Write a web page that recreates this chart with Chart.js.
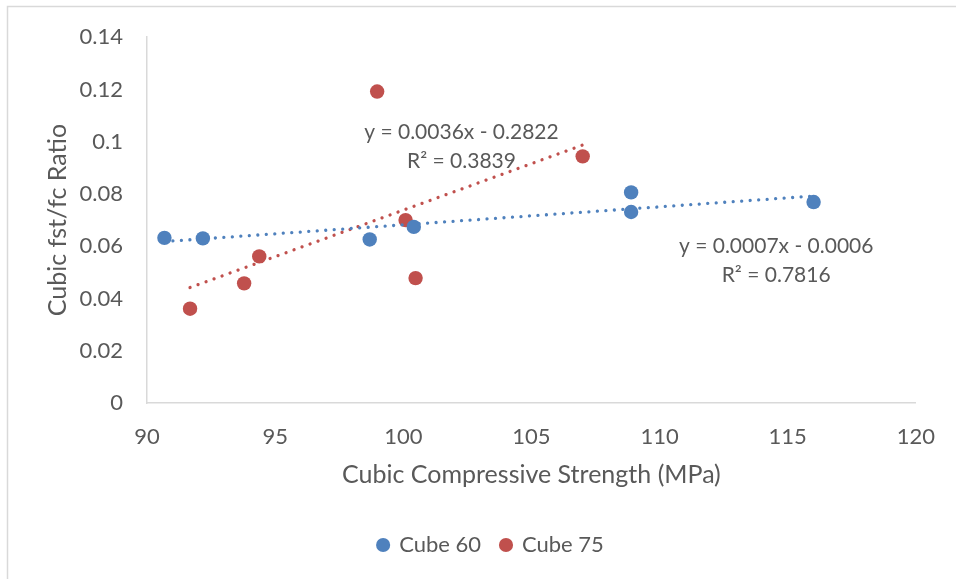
<!DOCTYPE html>
<html>
<head>
<meta charset="utf-8">
<script src="https://cdn.jsdelivr.net/npm/chart.js@4"></script>
<style>
  html, body { margin: 0; padding: 0; background: #ffffff; }
  #wrap { width: 956px; height: 579px; position: relative; }
</style>
</head>
<body>
<div id="wrap"><canvas id="c" width="956" height="579"></canvas></div>
<script>
// Cubic compressive strength (MPa) and fst/fc ratio per specimen group
const cube60X = [90.68, 92.18, 98.69, 100.41, 108.89, 108.89, 116.01];
const cube60Y = [0.0632, 0.0630, 0.0626, 0.0674, 0.0806, 0.0731, 0.0769];
const cube75X = [91.68, 93.79, 94.38, 98.98, 100.09, 100.48, 107.0];
const cube75Y = [0.0361, 0.0458, 0.0561, 0.1192, 0.0700, 0.0478, 0.0944];

// Linear trendline coefficients and fit quality
const trendSlope = [0.000688, 0.00356];
const trendIntercept = [-0.0006, -0.2822];
const trendR2 = [0.7816, 0.3839];

const seriesNames = ['Cube 60', 'Cube 75'];
const xTicks = [90, 95, 100, 105, 110, 115, 120];
const yTicks = [0, 0.02, 0.04, 0.06, 0.08, 0.1, 0.12, 0.14];

const FONT = 'Lato, "Open Sans", sans-serif';
const TEXT = '#595959';
const AXIS = '#d9d9d9';
const COLORS = ['#4f81bd', '#c0504d'];

function pts(xs, ys) { return xs.map((x, i) => ({ x: x, y: ys[i] })); }
function trend(xs, k) {
  const lo = Math.min(...xs), hi = Math.max(...xs);
  return [lo, hi].map(x => ({ x: x, y: trendSlope[k] * x + trendIntercept[k] }));
}
function eqText(k) {
  const b = trendIntercept[k];
  return 'y = ' + trendSlope[k].toFixed(4) + 'x ' + (b < 0 ? '- ' : '+ ') + Math.abs(b).toFixed(4);
}

const seriesX = [cube60X, cube75X];
const seriesY = [cube60Y, cube75Y];

const datasets = [];
seriesNames.forEach((name, k) => {
  datasets.push({
    label: name,
    data: pts(seriesX[k], seriesY[k]),
    backgroundColor: COLORS[k],
    borderColor: COLORS[k],
    pointRadius: 7.2,
    pointHoverRadius: 7.2,
    pointBorderWidth: 0,
    showLine: false,
    order: 2
  });
});
seriesNames.forEach((name, k) => {
  datasets.push({
    label: 'trend-' + k,
    type: 'line',
    data: trend(seriesX[k], k),
    borderColor: COLORS[k],
    borderWidth: 3.3,
    borderDash: [0.01, 8.5],
    borderCapStyle: 'round',
    pointRadius: 0,
    fill: false,
    order: 1
  });
});

// Trendline equation labels, anchored in data coordinates
const eqLabels = [
  { k: 0, x: 114.55, y: 0.0601 },
  { k: 1, x: 102.27, y: 0.1038 }
];

const decor = {
  id: 'decor',
  afterLayout(chart) {
    // centre the legend row on the whole frame rather than the plot
    const lg = chart.legend;
    if (lg) { lg.left += 31; lg.right += 31; }
  },
  beforeDraw(chart) {
    const ctx = chart.ctx;
    ctx.save();
    ctx.fillStyle = '#ffffff';
    ctx.fillRect(0, 0, chart.width, chart.height);
    ctx.strokeStyle = AXIS;
    ctx.lineWidth = 1.5;
    ctx.beginPath();
    ctx.moveTo(7.5, chart.height);
    ctx.lineTo(7.5, 6.5);
    ctx.lineTo(chart.width, 6.5);
    ctx.stroke();
    ctx.restore();
  },
  afterDatasetsDraw(chart) {
    const ctx = chart.ctx;
    const xs = chart.scales.x, ys = chart.scales.y;
    ctx.save();
    ctx.fillStyle = TEXT;
    ctx.font = '21px ' + FONT;
    ctx.textAlign = 'center';
    ctx.textBaseline = 'middle';
    eqLabels.forEach(l => {
      const px = xs.getPixelForValue(l.x), py = ys.getPixelForValue(l.y);
      ctx.fillText(eqText(l.k), px, py);
      ctx.fillText('R\u00b2 = ' + trendR2[l.k].toFixed(4), px, py + 29);
    });
    ctx.restore();
  }
};

new Chart(document.getElementById('c'), {
  type: 'scatter',
  data: { datasets: datasets },
  plugins: [decor],
  options: {
    responsive: false,
    animation: false,
    events: [],
    layout: { padding: { top: 35, right: 36, left: 0, bottom: 13 } },
    plugins: {
      tooltip: { enabled: false },
      legend: {
        position: 'bottom',
        labels: {
          usePointStyle: true,
          pointStyle: 'circle',
          boxWidth: 10,
          boxHeight: 10,
          padding: 20,
          color: TEXT,
          font: { family: FONT, size: 22 },
          filter: item => item.datasetIndex < seriesNames.length
        }
      }
    },
    scales: {
      x: {
        type: 'linear',
        min: xTicks[0],
        max: xTicks[xTicks.length - 1],
        afterBuildTicks: s => { s.ticks = xTicks.map(v => ({ value: v })); },
        afterFit: s => { s.height = 111; },
        grid: { display: false, drawTicks: false },
        border: { display: true, color: AXIS, width: 1.5 },
        ticks: { color: TEXT, font: { family: FONT, size: 22 }, padding: 21 },
        title: {
          display: true,
          text: 'Cubic Compressive Strength (MPa)',
          color: TEXT,
          font: { family: FONT, size: 25 },
          padding: { top: 0, bottom: 24 }
        }
      },
      y: {
        type: 'linear',
        min: yTicks[0],
        max: yTicks[yTicks.length - 1],
        afterBuildTicks: s => { s.ticks = yTicks.map(v => ({ value: v })); },
        afterFit: s => { s.width = 147; },
        grid: { display: false, drawTicks: false },
        border: { display: true, color: AXIS, width: 1.5 },
        ticks: {
          color: TEXT,
          font: { family: FONT, size: 22 },
          padding: 24,
          callback: v => String(v)
        },
        title: {
          display: true,
          text: 'Cubic fst/fc Ratio',
          color: TEXT,
          font: { family: FONT, size: 25 },
          padding: { top: 43, bottom: 0 }
        }
      }
    }
  }
});
</script>
</body>
</html>
